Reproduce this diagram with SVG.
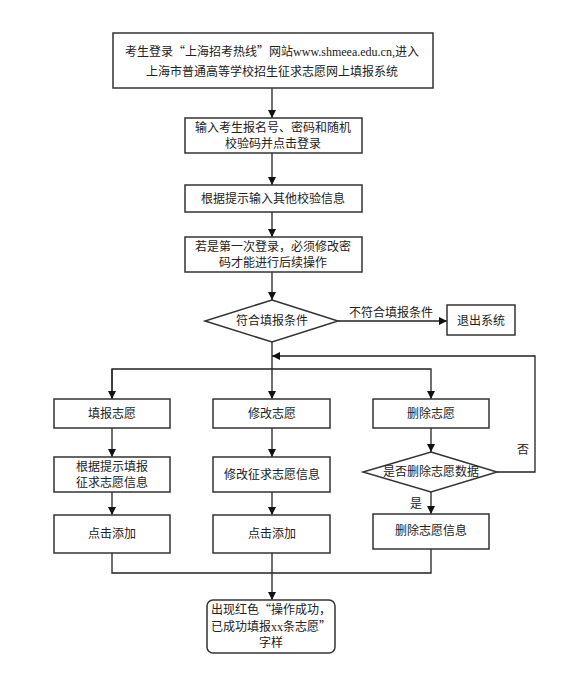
<svg xmlns="http://www.w3.org/2000/svg" width="563" height="673" viewBox="0 0 563 673">
<style>
.box{fill:#fff;stroke:#333;stroke-width:1.5}
.t{font-family:"Noto Sans CJK SC","Noto Sans",sans-serif;font-size:12px;fill:#222;text-anchor:middle}
.ts{font-family:"Liberation Serif","Noto Sans CJK SC",serif}
.ln{fill:none;stroke:#222;stroke-width:1.3}
</style>
<defs>
<marker id="ah" viewBox="0 0 10 10" refX="10" refY="5" markerWidth="8" markerHeight="8" markerUnits="userSpaceOnUse" orient="auto">
<path d="M0,0 L10,5 L0,10 Z" fill="#111"/>
</marker>
</defs>
<rect width="563" height="673" fill="#fff"/>
<g id="connectors">
<path class="ln" d="M272,88 V118" marker-end="url(#ah)"/>
<path class="ln" d="M272,153 V185" marker-end="url(#ah)"/>
<path class="ln" d="M272,212 V237" marker-end="url(#ah)"/>
<path class="ln" d="M272,272 V300" marker-end="url(#ah)"/>
<path class="ln" d="M338,321 H447" marker-end="url(#ah)"/>
<path class="ln" d="M272,342 V369"/>
<path class="ln" d="M112,399 V369 H431 V399" marker-end="url(#ah)"/>
<path class="ln" d="M112,369 V399" marker-end="url(#ah)"/>
<path class="ln" d="M272,369 V399" marker-end="url(#ah)"/>
<path class="ln" d="M112,428 V457" marker-end="url(#ah)"/>
<path class="ln" d="M112,492 V515" marker-end="url(#ah)"/>
<path class="ln" d="M272,428 V457" marker-end="url(#ah)"/>
<path class="ln" d="M272,492 V515" marker-end="url(#ah)"/>
<path class="ln" d="M431,428 V452" marker-end="url(#ah)"/>
<path class="ln" d="M431,492 V514" marker-end="url(#ah)"/>
<path class="ln" d="M497,472 H535 V356 H272" marker-end="url(#ah)"/>
<path class="ln" d="M112,553 V573 H431 V549"/>
<path class="ln" d="M272,553 V600" marker-end="url(#ah)"/>
<text class="t" x="391" y="317">不符合填报条件</text>
<text class="t" x="523" y="454">否</text>
<text class="t" x="416" y="508">是</text>
</g>
<g id="n1">
<rect class="box" x="113" y="33" width="320" height="55"/>
<text class="t" x="272" y="56">考生登录“上海招考热线”网站<tspan class="ts">www.shmeea.edu.cn,</tspan>进入</text>
<text class="t" x="272" y="76">上海市普通高等学校招生征求志愿网上填报系统</text>
</g>
<g id="n2">
<rect class="box" x="185" y="118" width="177" height="35"/>
<text class="t" x="273" y="132">输入考生报名号、密码和随机</text>
<text class="t" x="273" y="148">校验码并点击登录</text>
</g>
<g id="n3">
<rect class="box" x="185" y="185" width="177" height="27"/>
<text class="t" x="273" y="203">根据提示输入其他校验信息</text>
</g>
<g id="n4">
<rect class="box" x="185" y="237" width="177" height="35"/>
<text class="t" x="273" y="251">若是第一次登录，必须修改密</text>
<text class="t" x="273" y="267">码才能进行后续操作</text>
</g>
<g id="d1">
<polygon class="box" points="272,300 338,321 272,342 205,321"/>
<text class="t" x="272" y="325">符合填报条件</text>
</g>
<g id="exit">
<rect class="box" x="447" y="305" width="68" height="30"/>
<text class="t" x="481" y="325">退出系统</text>
</g>
<g id="c1a">
<rect class="box" x="54" y="399" width="116" height="29"/>
<text class="t" x="112" y="418">填报志愿</text>
</g>
<g id="c1b">
<rect class="box" x="54" y="457" width="116" height="35"/>
<text class="t" x="112" y="471">根据提示填报</text>
<text class="t" x="112" y="487">征求志愿信息</text>
</g>
<g id="c1c">
<rect class="box" x="54" y="515" width="116" height="38"/>
<text class="t" x="112" y="538">点击添加</text>
</g>
<g id="c2a">
<rect class="box" x="213" y="399" width="117" height="29"/>
<text class="t" x="272" y="418">修改志愿</text>
</g>
<g id="c2b">
<rect class="box" x="213" y="457" width="117" height="35"/>
<text class="t" x="272" y="479">修改征求志愿信息</text>
</g>
<g id="c2c">
<rect class="box" x="213" y="515" width="117" height="38"/>
<text class="t" x="272" y="538">点击添加</text>
</g>
<g id="c3a">
<rect class="box" x="373" y="399" width="116" height="29"/>
<text class="t" x="431" y="418">删除志愿</text>
</g>
<g id="d2">
<polygon class="box" points="431,452 497,472 431,492 363,472"/>
<text class="t" x="431" y="476">是否删除志愿数据</text>
</g>
<g id="c3c">
<rect class="box" x="373" y="514" width="116" height="35"/>
<text class="t" x="431" y="535">删除志愿信息</text>
</g>
<g id="end">
<rect class="box" x="207" y="600" width="128" height="53" rx="6"/>
<text class="t" x="271" y="614">出现红色“操作成功，</text>
<text class="t" x="271" y="631">已成功填报<tspan class="ts">xx</tspan>条志愿”</text>
<text class="t" x="271" y="647">字样</text>
</g>
</svg>
